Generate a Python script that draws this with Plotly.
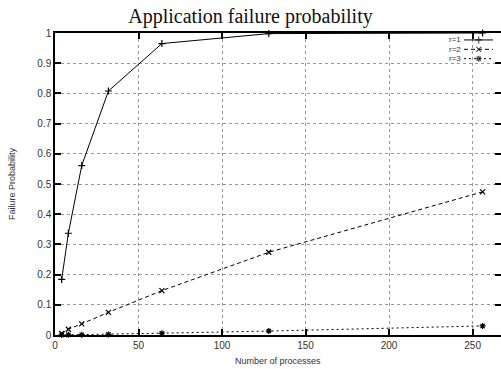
import plotly.graph_objects as go

processes = [4, 8, 16, 32, 64, 128, 256]
r1 = [0.184, 0.337, 0.561, 0.808, 0.965, 0.998, 1.0]
r2 = [0.005, 0.019, 0.037, 0.075, 0.147, 0.274, 0.474]
r3 = [0.0002, 0.0005, 0.001, 0.002, 0.006, 0.013, 0.030]
series_names = ["r=1", "r=2", "r=3"]

x_ticks = [0, 50, 100, 150, 200, 250]
y_ticks = [0, 0.1, 0.2, 0.3, 0.4, 0.5, 0.6, 0.7, 0.8, 0.9, 1]
y_tick_text = ["0", "0.1", "0.2", "0.3", "0.4", "0.5", "0.6", "0.7", "0.8", "0.9", "1"]

styles = [
    dict(dash="solid", symbol="cross-thin-open"),
    dict(dash="4px,3px", symbol="x-thin-open"),
    dict(dash="2px,3px", symbol="asterisk-open"),
]

fig = go.Figure()
for name, ys, st in zip(series_names, [r1, r2, r3], styles):
    fig.add_trace(go.Scatter(
        x=processes, y=ys, mode="lines+markers", name=name,
        line=dict(color="black", width=1, dash=st["dash"]),
        marker=dict(symbol=st["symbol"], size=5, color="black",
                    line=dict(color="black", width=1.2)),
        showlegend=False, cliponaxis=False,
    ))

# custom gnuplot-style legend (text, then line sample) on an overlay axis
leg_y = [0.977, 0.946, 0.915]
for name, st, ly in zip(series_names, styles, leg_y):
    fig.add_trace(go.Scatter(
        x=[0.917, 0.95, 0.982], y=[ly, ly, ly], mode="lines+markers",
        xaxis="x2", yaxis="y2",
        line=dict(color="black", width=1, dash=st["dash"]),
        marker=dict(symbol=st["symbol"], size=[0, 5, 0], color="black",
                    line=dict(color="black", width=1.2)),
        showlegend=False, hoverinfo="skip",
    ))
    fig.add_annotation(x=0.912, y=ly, xref="paper", yref="paper",
                       text=name, showarrow=False, xanchor="right",
                       yanchor="middle", borderpad=0,
                       font=dict(family="Liberation Sans", size=8, color="#333"))

# axis titles
fig.add_annotation(x=0.5, y=-0.086, xref="paper", yref="paper",
                   text="Number of processes", showarrow=False,
                   xanchor="center", yanchor="middle",
                   font=dict(family="Liberation Sans", size=9, color="#333"))
fig.add_annotation(x=-0.0964, y=0.5, xref="paper", yref="paper",
                   text="Failure Probability", showarrow=False, textangle=-90,
                   xanchor="center", yanchor="middle",
                   font=dict(family="Liberation Sans", size=9, color="#333"))

axis_common = dict(
    showline=True, linecolor="black", linewidth=1.5, mirror="allticks",
    ticks="inside", ticklen=6, tickcolor="black", tickwidth=1.5,
    showgrid=True, gridcolor="#999", griddash="dot", gridwidth=1,
    zeroline=False, automargin=False,
    tickfont=dict(family="Liberation Sans", size=10, color="#333"),
)

fig.update_layout(
    width=501, height=369,
    margin=dict(l=55, r=0, t=33, b=34),
    plot_bgcolor="white", paper_bgcolor="white",
    title=dict(text="Application failure probability", x=0.5, xanchor="center",
               y=0.957, yanchor="middle",
               font=dict(family="Liberation Serif", size=20, color="#111")),
    xaxis=dict(range=[0, 267], tickvals=x_ticks, **axis_common),
    yaxis=dict(range=[0, 1], tickvals=y_ticks, ticktext=y_tick_text, **axis_common),
    xaxis2=dict(overlaying="x", range=[0, 1], visible=False, fixedrange=True),
    yaxis2=dict(overlaying="y", range=[0, 1], visible=False, fixedrange=True),
)

fig.write_html("out.html", config={"displayModeBar": False},
               post_script="document.body.style.margin='0';document.body.style.overflow='hidden';")
